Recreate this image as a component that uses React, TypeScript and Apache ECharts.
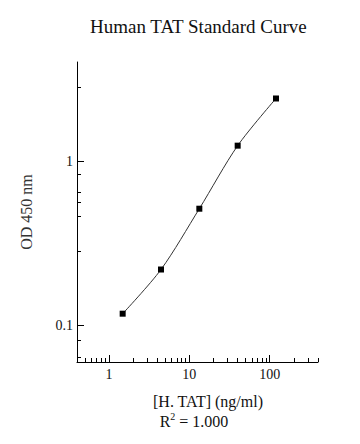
import React, { useEffect, useRef } from "react";
import * as echarts from "echarts";

const concentrations = [1.481, 4.444, 13.33, 40, 120];
const odValues = [0.118, 0.219, 0.513, 1.24, 2.4];
const xMajorTicks = [1, 10, 100];
const xMinorTicks = [
  0.4, 0.5, 0.6, 0.7, 0.8, 0.9,
  2, 3, 4, 5, 6, 7, 8, 9,
  20, 30, 40, 50, 60, 70, 80, 90,
  200, 300, 400,
];
const yMajorTicks = [0.1, 1];
const yMinorTicks = [0.0641, 0.081, 0.281, 0.459, 0.563, 0.648, 0.83, 2.8];
const titleText = "Human TAT Standard Curve";
const xName = "[H. TAT] (ng/ml)";
const yName = "OD 450 nm";
const r2Value = "1.000";

const FONT = "'Liberation Serif', 'Times New Roman', serif";

export default function App() {
  const ref = useRef<HTMLDivElement>(null);
  useEffect(() => {
    if (!ref.current) return;
    const chart = echarts.init(ref.current, undefined, { renderer: "svg" });
    const lineStyle = { color: "#000", width: 1 };
    const baseX = {
      type: "log" as const,
      min: 0.4,
      max: 400,
      logBase: 10,
      position: "bottom" as const,
      gridIndex: 0,
      splitLine: { show: false },
    };
    const baseY = {
      type: "log" as const,
      min: 0.06,
      max: 4,
      logBase: 10,
      position: "left" as const,
      gridIndex: 0,
      splitLine: { show: false },
    };
    chart.setOption({
      animation: false,
      backgroundColor: "#fff",
      title: {
        text: titleText,
        left: 85,
        top: 12,
        textStyle: { fontFamily: FONT, fontSize: 19, fontWeight: "normal", color: "#111" },
      },
      grid: { left: 77, top: 62, right: 42, bottom: 82 },
      xAxis: [
        {
          ...baseX,
          axisLine: { show: true, lineStyle },
          axisTick: { show: true, inside: true, length: 7, lineStyle, customValues: xMajorTicks },
          axisLabel: {
            show: true,
            customValues: xMajorTicks,
            fontFamily: FONT,
            fontSize: 14,
            color: "#111",
            margin: 5,
          },
        },
        {
          ...baseX,
          axisLine: { show: false },
          axisTick: { show: true, inside: true, length: 4, lineStyle, customValues: xMinorTicks },
          axisLabel: { show: false },
        },
      ],
      yAxis: [
        {
          ...baseY,
          name: yName,
          nameLocation: "middle",
          nameGap: 43,
          nameRotate: 90,
          nameTextStyle: { fontFamily: FONT, fontSize: 16, color: "#333" },
          axisLine: { show: true, lineStyle },
          axisTick: { show: true, inside: true, length: 7, lineStyle, customValues: yMajorTicks },
          axisLabel: {
            show: true,
            customValues: yMajorTicks,
            fontFamily: FONT,
            fontSize: 14,
            color: "#111",
            margin: 4,
          },
        },
        {
          ...baseY,
          axisLine: { show: false },
          axisTick: { show: true, inside: true, length: 4, lineStyle, customValues: yMinorTicks },
          axisLabel: { show: false },
        },
      ],
      graphic: [
        {
          type: "text",
          x: 208,
          y: 401,
          style: {
            text: xName,
            fontFamily: FONT,
            fontSize: 16,
            fill: "#111",
            textAlign: "center",
            textVerticalAlign: "middle",
          },
        },
        {
          type: "text",
          x: 194,
          y: 420,
          style: {
            text: "{a|R}{s|2}{a| = " + r2Value + "}",
            textAlign: "center",
            textVerticalAlign: "middle",
            rich: {
              a: { fontFamily: FONT, fontSize: 16, fill: "#111", verticalAlign: "bottom" },
              s: { fontFamily: FONT, fontSize: 10, fill: "#111", verticalAlign: "top", padding: [0, 0, 8, 0] },
            },
          },
        },
      ],
      series: [
        {
          type: "line",
          xAxisIndex: 0,
          yAxisIndex: 0,
          data: concentrations.map((c, i) => [c, odValues[i]]),
          smooth: 0.3,
          symbol: "rect",
          symbolSize: 6,
          itemStyle: { color: "#000" },
          lineStyle: { color: "#333", width: 1 },
        },
      ],
    });
    return () => chart.dispose();
  }, []);
  return <div ref={ref} style={{ width: 360, height: 444, position: "absolute", left: 0, top: 0 }} />;
}
